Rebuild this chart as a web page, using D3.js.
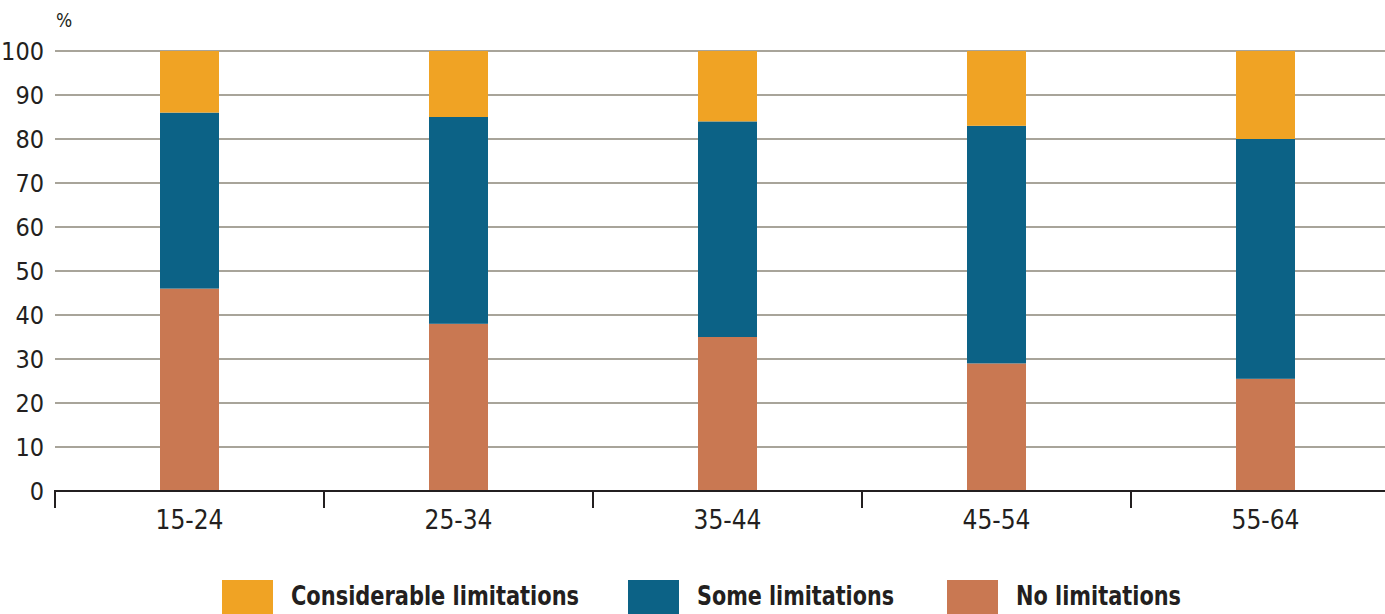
<!DOCTYPE html>
<html>
<head>
<meta charset="utf-8">
<script src="https://cdn.jsdelivr.net/npm/d3@7"></script>
<style>
  body { margin: 0; background: #fff; }
  text { font-family: "Liberation Sans Narrow", "DejaVu Sans Condensed", sans-serif; fill: #231f20; }
</style>
</head>
<body>
<div class="chart"></div>
<script>
const ages = ["15-24", "25-34", "35-44", "45-54", "55-64"];
const no_limits = [46, 38, 35, 29, 25.5];
const some_limits = [40, 47, 49, 54, 54.5];
const considerable_limits = [14, 15, 16, 17, 20];
const y_ticks = [0, 10, 20, 30, 40, 50, 60, 70, 80, 90, 100];

const series = [
    {name: "No limitations", values: no_limits, color: "#c97852"},
    {name: "Some limitations", values: some_limits, color: "#0c6286"},
    {name: "Considerable limitations", values: considerable_limits, color: "#f0a324"}
];

const width = 1385;
const height = 614;
const left = 55;
const top_y = 51;
const bottom_y = 491;

const svg = d3.select(".chart")
    .append("svg")
    .attr("width", width)
    .attr("height", height);

const x = d3.scaleBand()
    .domain(ages)
    .range([left, left + 269 * 5])
    .paddingInner(0);

const y = d3.scaleLinear()
    .domain([0, 100])
    .range([bottom_y, top_y]);

// gridlines
svg.selectAll(".grid")
    .data(y_ticks.filter(t => t > 0))
    .enter()
    .append("line")
    .attr("x1", left)
    .attr("x2", width)
    .attr("y1", d => y(d))
    .attr("y2", d => y(d))
    .attr("stroke", "#a8a49a")
    .attr("stroke-width", 2.2);

// y labels
svg.selectAll(".ylab")
    .data(y_ticks)
    .enter()
    .append("text")
    .attr("x", 44)
    .attr("y", d => y(d) + 9)
    .attr("text-anchor", "end")
    .attr("font-size", "25px")
    .text(d => d);

svg.append("text")
    .attr("x", 56)
    .attr("y", 27)
    .attr("font-size", "19px")
    .text("%");

// stacked bars
const rows = ages.map((a, i) => {
    let r = {age: a};
    series.forEach(s => r[s.name] = s.values[i]);
    return r;
});
const stacked = d3.stack().keys(series.map(s => s.name))(rows);
const bar_w = 59;

stacked.forEach((layer, k) => {
    svg.selectAll(".bar" + k)
        .data(layer)
        .enter()
        .append("rect")
        .attr("x", d => x(d.data.age) + x.bandwidth() / 2 - bar_w / 2)
        .attr("y", d => y(d[1]))
        .attr("width", bar_w)
        .attr("height", d => y(d[0]) - y(d[1]))
        .attr("fill", series[k].color);
});

// x axis
svg.append("line")
    .attr("x1", left - 1)
    .attr("x2", width)
    .attr("y1", bottom_y)
    .attr("y2", bottom_y)
    .attr("stroke", "#231f20")
    .attr("stroke-width", 2);

svg.selectAll(".xtick")
    .data(ages)
    .enter()
    .append("line")
    .attr("x1", d => x(d))
    .attr("x2", d => x(d))
    .attr("y1", bottom_y)
    .attr("y2", bottom_y + 17)
    .attr("stroke", "#231f20")
    .attr("stroke-width", 2);

svg.selectAll(".xlab")
    .data(ages)
    .enter()
    .append("text")
    .attr("x", d => x(d) + x.bandwidth() / 2)
    .attr("y", 529)
    .attr("text-anchor", "middle")
    .attr("font-size", "26px")
    .text(d => d);

// legend
const legend = [
    {name: "Considerable limitations", color: "#f0a324", x: 222, w: 288},
    {name: "Some limitations", color: "#0c6286", x: 628, w: 197},
    {name: "No limitations", color: "#c97852", x: 947, w: 165}
];

legend.forEach(l => {
    svg.append("rect")
        .attr("x", l.x)
        .attr("y", 580)
        .attr("width", 51)
        .attr("height", 40)
        .attr("fill", l.color);
    svg.append("text")
        .attr("x", l.x + 69)
        .attr("y", 605)
        .attr("font-size", "27px")
        .attr("font-weight", "bold")
        .attr("textLength", l.w)
        .attr("lengthAdjust", "spacingAndGlyphs")
        .text(l.name);
});
</script>
</body>
</html>
